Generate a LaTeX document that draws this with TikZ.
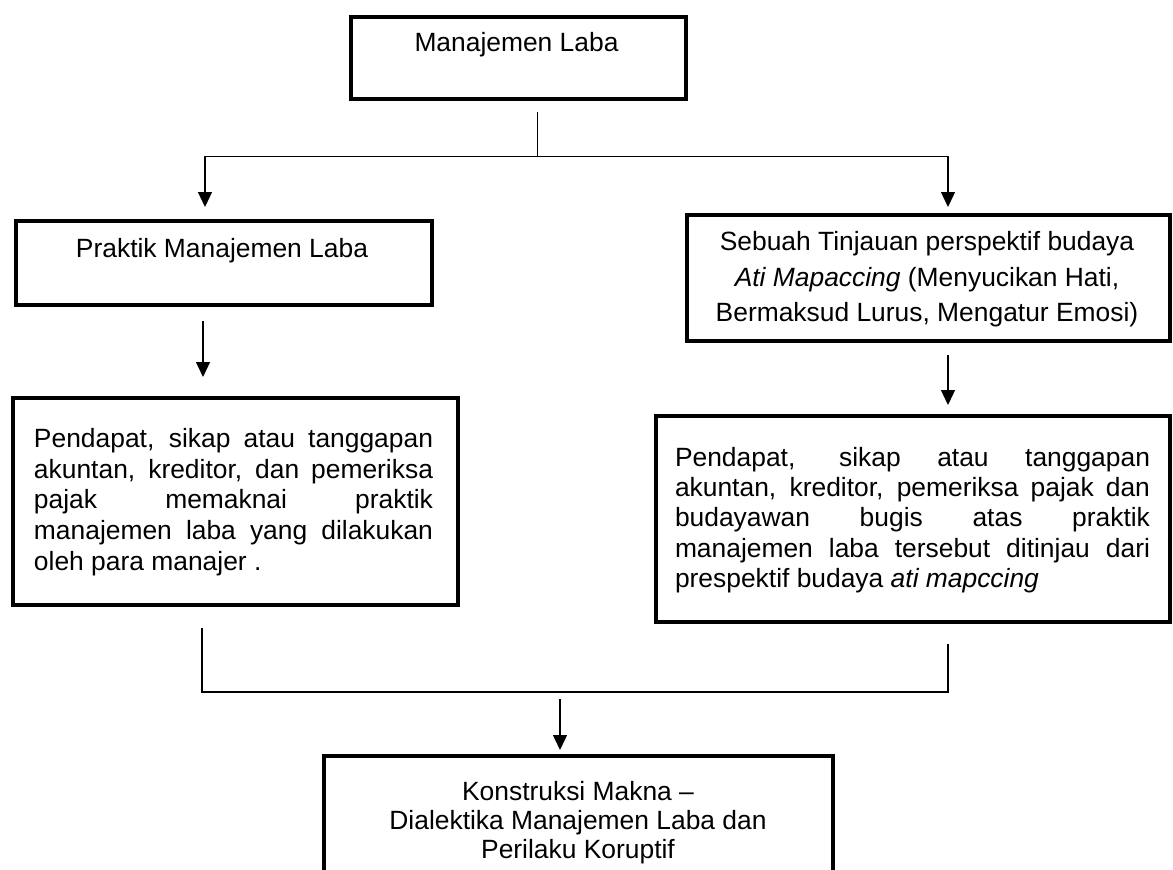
\documentclass[tikz,border=0pt]{standalone}
\usepackage{fontspec}
\setmainfont{Liberation Sans}
\usetikzlibrary{arrows.meta}
\begin{document}
\tikzset{
  box/.style={draw, line width=3.6pt, inner sep=0pt, anchor=north west},
  conn/.style={line width=1.3pt},
  arr/.style={line width=1.3pt, -{Triangle[width=14pt,length=15pt]}},
  txt/.style={inner sep=0pt, font=\fontsize{26.4}{31}\selectfont},
}
\begin{tikzpicture}[x=1pt,y=-1pt]
\useasboundingbox[fill=white] (0,0) rectangle (1173,870);
% boxes
\node[box, minimum width=335pt, minimum height=82pt] (top) at (349,15) {};
\node[txt, anchor=base] (ttop) at (516.5,51) {Manajemen Laba};

\node[box, minimum width=416pt, minimum height=84pt] (prak) at (14,219) {};
\node[txt, anchor=base] (tprak) at (222,257) {Praktik Manajemen Laba};

\node[box, minimum width=483pt, minimum height=126pt] (seb) at (685,213) {};
\node[txt, anchor=north, align=center, font=\fontsize{26.4}{35.3}\selectfont] (tseb) at (927,231.5)
  {Sebuah Tinjauan perspektif budaya\\\textit{Ati Mapaccing} (Menyucikan Hati,\\Bermaksud Lurus, Mengatur Emosi)};

\node[box, minimum width=445pt, minimum height=207pt] (pl) at (11,396) {};
\node[txt, anchor=north, align=left, font=\fontsize{26.4}{30.7}\selectfont] (tpl) at (233.5,428)
  {\makebox[399pt][s]{Pendapat, sikap atau tanggapan}\\
   \makebox[399pt][s]{akuntan, kreditor, dan pemeriksa}\\
   \makebox[399pt][s]{pajak memaknai praktik}\\
   \makebox[399pt][s]{manajemen laba yang dilakukan}\\
   oleh para manajer .};

\node[box, minimum width=514pt, minimum height=206pt] (pr) at (654,414) {};
\node[txt, anchor=north, align=left, font=\fontsize{26.4}{30.3}\selectfont] (tpr) at (912.5,447)
  {\makebox[475pt][s]{Pendapat, sikap atau tanggapan}\\
   \makebox[475pt][s]{akuntan, kreditor, pemeriksa pajak dan}\\
   \makebox[475pt][s]{budayawan bugis atas praktik}\\
   \makebox[475pt][s]{manajemen laba tersebut ditinjau dari}\\
   prespektif budaya \textit{ati mapccing}};

\node[box, minimum width=509pt, minimum height=124pt] (kon) at (322,754) {};
\node[txt, anchor=north, align=center, font=\fontsize{26.4}{29}\selectfont] (tkon) at (578,781)
  {Konstruksi Makna --\\Dialektika Manajemen Laba dan\\Perilaku Koruptif};

% connectors
\draw[conn] ([xshift=19pt,yshift=-11pt]top.south) -- ++(0,45) coordinate (jt);
\coordinate (tipL) at (205,207);
\coordinate (tipR) at (948,207);
\draw[arr] (jt) -| (tipL);
\draw[arr] (jt) -| (tipR);

\coordinate (sL) at (203,321);
\coordinate (eL) at (203,377);
\draw[arr] (sL) -- (eL);

\coordinate (sR) at (948,355);
\coordinate (eR) at (948,405);
\draw[arr] (sR) -- (eR);

\coordinate (bL) at (202,628);
\coordinate (bR) at (948,644);
\draw[conn] (bL) |- (bR |- 0,692) -- (bR);

\coordinate (sK) at (560,699);
\coordinate (eK) at (560,750);
\draw[arr] (sK) -- (eK);
\end{tikzpicture}
\end{document}
